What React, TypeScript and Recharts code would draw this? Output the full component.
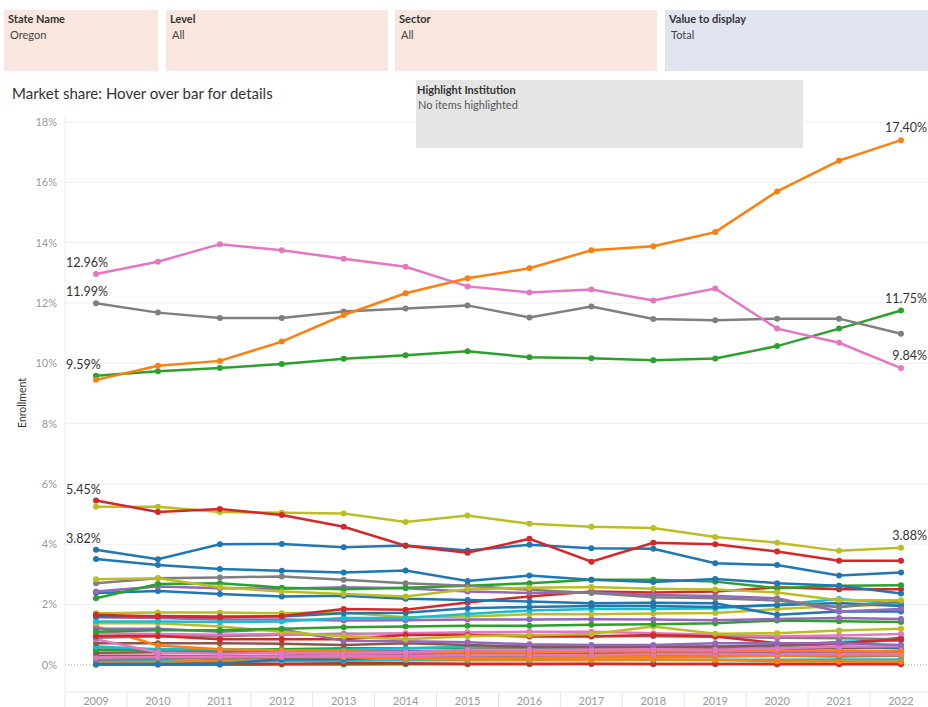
import { LineChart, Line, XAxis, YAxis, ReferenceLine } from "recharts"

const years = ["2009", "2010", "2011", "2012", "2013", "2014", "2015", "2016", "2017", "2018", "2019", "2020", "2021", "2022"]
const yTicks = [0, 2, 4, 6, 8, 10, 12, 14, 16, 18]

// market share (%) per institution
const orangeLeader = [9.45, 9.92, 10.08, 10.72, 11.6, 12.32, 12.82, 13.15, 13.75, 13.88, 14.35, 15.7, 16.72, 17.4]
const pinkLeader = [12.96, 13.37, 13.95, 13.75, 13.47, 13.2, 12.55, 12.35, 12.45, 12.08, 12.48, 11.15, 10.68, 9.84]
const grayLeader = [11.99, 11.68, 11.5, 11.5, 11.72, 11.82, 11.92, 11.52, 11.88, 11.47, 11.43, 11.48, 11.48, 10.98]
const greenLeader = [9.59, 9.74, 9.84, 9.98, 10.15, 10.27, 10.4, 10.2, 10.17, 10.1, 10.16, 10.57, 11.15, 11.75]
const redMid = [5.45, 5.07, 5.17, 4.97, 4.58, 3.95, 3.72, 4.18, 3.42, 4.05, 4.0, 3.76, 3.45, 3.45]
const oliveMid = [5.24, 5.24, 5.07, 5.04, 5.02, 4.74, 4.95, 4.68, 4.58, 4.54, 4.24, 4.05, 3.78, 3.88]
const blueMid = [3.82, 3.5, 4.0, 4.01, 3.9, 3.96, 3.79, 3.98, 3.87, 3.85, 3.37, 3.31, 2.96, 3.06]
const blueMid2 = [3.51, 3.31, 3.18, 3.12, 3.06, 3.13, 2.78, 2.96, 2.82, 2.75, 2.85, 2.71, 2.62, 2.37]
const olive2 = [2.84, 2.87, 2.57, 2.43, 2.35, 2.27, 2.51, 2.56, 2.58, 2.52, 2.5, 2.4, 2.14, 2.14]
const gray2 = [2.71, 2.87, 2.9, 2.93, 2.82, 2.71, 2.62, 2.49, 2.38, 2.24, 2.21, 2.13, 1.91, 2.1]
const green2 = [2.21, 2.68, 2.71, 2.56, 2.51, 2.56, 2.62, 2.71, 2.82, 2.82, 2.76, 2.54, 2.62, 2.64]
const purple1 = [2.43, 2.6, 2.54, 2.52, 2.57, 2.54, 2.43, 2.38, 2.4, 2.32, 2.28, 2.21, 1.77, 1.85]
const blue3 = [2.38, 2.45, 2.35, 2.27, 2.29, 2.19, 2.15, 2.1, 2.04, 2.06, 2.04, 1.66, 1.77, 1.77]
const red2 = [1.66, 1.6, 1.58, 1.62, 1.85, 1.83, 2.07, 2.27, 2.43, 2.4, 2.43, 2.57, 2.51, 2.51]
const blue4 = [1.6, 1.62, 1.6, 1.6, 1.71, 1.73, 1.88, 1.92, 1.95, 1.95, 1.92, 1.98, 2.05, 1.95]
const cyan1 = [1.44, 1.44, 1.42, 1.44, 1.55, 1.55, 1.69, 1.8, 1.85, 1.85, 1.88, 1.99, 2.18, 2.02]
const olive3 = [1.71, 1.74, 1.74, 1.71, 1.74, 1.58, 1.6, 1.68, 1.68, 1.7, 1.72, 1.85, 1.95, 2.0]
const purple3 = [1.58, 1.55, 1.5, 1.5, 1.47, 1.48, 1.5, 1.5, 1.51, 1.5, 1.48, 1.52, 1.55, 1.52]
const green3 = [1.1, 1.15, 1.15, 1.2, 1.25, 1.27, 1.3, 1.3, 1.33, 1.35, 1.38, 1.47, 1.45, 1.42]
const olive4 = [1.38, 1.38, 1.27, 1.1, 0.94, 0.85, 0.95, 0.98, 1.02, 1.27, 1.03, 1.05, 1.14, 1.2]
const purple2 = [1.2, 1.2, 1.1, 1.18, 0.8, 0.78, 0.75, 0.68, 0.66, 0.66, 0.72, 0.72, 0.72, 0.66]
const red3 = [0.96, 0.96, 0.85, 0.85, 0.85, 0.99, 0.99, 0.94, 0.94, 0.99, 0.94, 0.72, 0.72, 0.85]
const pink3 = [1.05, 1.02, 1.0, 1.02, 1.0, 1.05, 1.08, 1.1, 1.1, 1.05, 1.0, 0.95, 0.97, 1.02]
const gray4 = [0.9, 0.95, 0.95, 1.0, 1.03, 1.03, 1.0, 0.98, 0.96, 0.95, 0.93, 0.9, 0.88, 0.85]
const pink2 = [0.85, 0.41, 0.37, 0.39, 0.37, 0.41, 0.5, 0.5, 0.5, 0.52, 0.5, 0.55, 0.6, 0.62]
const orange2 = [1.27, 0.64, 0.52, 0.48, 0.45, 0.41, 0.41, 0.42, 0.44, 0.45, 0.45, 0.47, 0.48, 0.45]
const brown1 = [0.72, 0.72, 0.72, 0.7, 0.66, 0.72, 0.66, 0.6, 0.58, 0.58, 0.6, 0.65, 0.7, 0.9]
const cyan2 = [0.61, 0.52, 0.52, 0.48, 0.5, 0.55, 0.6, 0.64, 0.62, 0.6, 0.62, 0.64, 0.77, 0.8]
const green4 = [0.5, 0.52, 0.5, 0.52, 0.55, 0.55, 0.56, 0.55, 0.58, 0.6, 0.6, 0.62, 0.7, 0.85]
const purple4 = [0.5, 0.5, 0.48, 0.48, 0.46, 0.45, 0.45, 0.44, 0.45, 0.45, 0.44, 0.44, 0.45, 0.46]
const brown3 = [0.4, 0.42, 0.42, 0.45, 0.45, 0.45, 0.46, 0.48, 0.5, 0.5, 0.52, 0.55, 0.55, 0.6]
const pink4 = [0.25, 0.26, 0.27, 0.28, 0.3, 0.3, 0.32, 0.33, 0.33, 0.35, 0.35, 0.36, 0.38, 0.38]
const brown2 = [0.3, 0.3, 0.28, 0.3, 0.35, 0.36, 0.38, 0.38, 0.38, 0.4, 0.4, 0.38, 0.4, 0.42]
const orange4 = [0.28, 0.27, 0.26, 0.26, 0.25, 0.22, 0.22, 0.23, 0.24, 0.25, 0.27, 0.3, 0.32, 0.33]
const gray3 = [0.17, 0.2, 0.22, 0.25, 0.28, 0.3, 0.3, 0.3, 0.32, 0.3, 0.32, 0.3, 0.28, 0.3]
const blue5 = [0.03, 0.03, 0.03, 0.19, 0.19, 0.28, 0.28, 0.33, 0.33, 0.33, 0.33, 0.44, 0.61, 0.55]
const orange3 = [0.08, 0.08, 0.17, 0.2, 0.22, 0.2, 0.18, 0.18, 0.17, 0.18, 0.16, 0.12, 0.11, 0.1]
const cyan3 = [0.12, 0.12, 0.12, 0.13, 0.14, 0.15, 0.15, 0.15, 0.16, 0.16, 0.17, 0.17, 0.18, 0.18]
const red4 = [0.06, 0.05, 0.05, 0.04, 0.05, 0.05, 0.04, 0.04, 0.04, 0.03, 0.03, 0.02, 0.02, 0.02]
const green5 = [0.0, 0.0, 0.0, 0.01, 0.01, 0.02, 0.02, 0.02, 0.03, 0.03, 0.03, 0.04, 0.04, 0.05]

const C = {
  blue: "#1f77b4", orange: "#ff7f0e", green: "#2ca02c", red: "#d62728", purple: "#9467bd",
  brown: "#8c564b", pink: "#e377c2", gray: "#7f7f7f", olive: "#bcbd22", cyan: "#17becf",
}

// drawn bottom first, leaders last
const seriesList = [
  { key: "green5", values: green5, color: C.green },
  { key: "red4", values: red4, color: C.red },
  { key: "cyan3", values: cyan3, color: C.cyan },
  { key: "orange3", values: orange3, color: C.orange },
  { key: "blue5", values: blue5, color: C.blue },
  { key: "gray3", values: gray3, color: C.gray },
  { key: "orange4", values: orange4, color: C.orange },
  { key: "brown2", values: brown2, color: C.brown },
  { key: "pink4", values: pink4, color: C.pink },
  { key: "brown3", values: brown3, color: C.brown },
  { key: "purple4", values: purple4, color: C.purple },
  { key: "green4", values: green4, color: C.green },
  { key: "cyan2", values: cyan2, color: C.cyan },
  { key: "brown1", values: brown1, color: C.brown },
  { key: "orange2", values: orange2, color: C.orange },
  { key: "pink2", values: pink2, color: C.pink },
  { key: "gray4", values: gray4, color: C.gray },
  { key: "pink3", values: pink3, color: C.pink },
  { key: "red3", values: red3, color: C.red },
  { key: "purple2", values: purple2, color: C.purple },
  { key: "olive4", values: olive4, color: C.olive },
  { key: "green3", values: green3, color: C.green },
  { key: "purple3", values: purple3, color: C.purple },
  { key: "olive3", values: olive3, color: C.olive },
  { key: "cyan1", values: cyan1, color: C.cyan },
  { key: "blue4", values: blue4, color: C.blue },
  { key: "red2", values: red2, color: C.red },
  { key: "blue3", values: blue3, color: C.blue },
  { key: "purple1", values: purple1, color: C.purple },
  { key: "green2", values: green2, color: C.green },
  { key: "gray2", values: gray2, color: C.gray },
  { key: "olive2", values: olive2, color: C.olive },
  { key: "blueMid2", values: blueMid2, color: C.blue },
  { key: "blueMid", values: blueMid, color: C.blue, first: true },
  { key: "oliveMid", values: oliveMid, color: C.olive, last: true },
  { key: "redMid", values: redMid, color: C.red, first: true },
  { key: "greenLeader", values: greenLeader, color: C.green, first: true, last: true },
  { key: "grayLeader", values: grayLeader, color: C.gray, first: true },
  { key: "pinkLeader", values: pinkLeader, color: C.pink, first: true, last: true },
  { key: "orangeLeader", values: orangeLeader, color: C.orange, last: true },
]

const data = years.map((year, i) => {
  const row: Record<string, string | number> = { year }
  seriesList.forEach((s) => { row[s.key] = s.values[i] })
  return row
})

const FONT = "Lato, 'Noto Sans', sans-serif"
const fmt = (v: number) => `${v.toFixed(2)}%`

const makeDot = (s: any) => (props: any) => {
  const { cx, cy, index } = props
  const v = s.values[index]
  let label = null
  if (s.first && index === 0) {
    label = <text x={cx - 30} y={cy - 7} textAnchor="start" fontSize={12.5} fill="#333" fontFamily={FONT}>{fmt(v)}</text>
  } else if (s.last && index === years.length - 1) {
    // keep end labels inside the window
    label = <text x={cx + 26} y={cy - 8} textAnchor="end" fontSize={12.5} fill="#333" fontFamily={FONT}>{fmt(v)}</text>
  }
  return (
    <g key={`${s.key}-${index}`}>
      <circle cx={cx} cy={cy} r={3} fill={s.color} />
      {label}
    </g>
  )
}

const XTick = (props: any) => {
  const { x, y, payload } = props
  return (
    <g>
      <line x1={x - 31} x2={x - 31} y1={y - 5} y2={y + 12} stroke="#e6e6e6" />
      <text x={x} y={y} dy="0.71em" textAnchor="middle" fontSize={11} fill="#999" fontFamily={FONT}>{payload.value}</text>
    </g>
  )
}

const filters = [
  { title: "State Name", value: "Oregon", left: 4, width: 154, bg: "#f9e7df" },
  { title: "Level", value: "All", left: 166, width: 222, bg: "#f9e7df" },
  { title: "Sector", value: "All", left: 395, width: 262, bg: "#f9e7df" },
  { title: "Value to display", value: "Total", left: 665, width: 263, bg: "#e1e5f0" },
]

export default function App() {
  return (
    <div style={{ position: "absolute", left: 0, top: 0, width: 928, height: 707, overflow: "hidden", background: "#fff", fontFamily: FONT }}>
      {filters.map((f) => (
        <div key={f.title} style={{ position: "absolute", left: f.left, top: 10, width: f.width, height: 61, background: f.bg }}>
          <div style={{ position: "absolute", left: 4, top: 2, fontSize: 11, fontWeight: 700, color: "#333" }}>{f.title}</div>
          <div style={{ position: "absolute", left: 6, top: 18, fontSize: 11, color: "#444" }}>{f.value}</div>
        </div>
      ))}
      <div style={{ position: "absolute", left: 12, top: 84, fontSize: 15, color: "#333" }}>
        Market share: Hover over bar for details
      </div>
      <div style={{ position: "absolute", left: 22, top: 403, transform: "translate(-50%, -50%) rotate(-90deg)", fontSize: 10.5, color: "#333" }}>
        Enrollment
      </div>
      <div style={{ position: "absolute", left: 0, top: 0 }}>
        <LineChart width={932} height={707} data={data} margin={{ top: 116, right: 0, bottom: 0, left: 0 }}>
          {yTicks.filter((t) => t !== 0).map((t) => (
            <ReferenceLine key={t} y={t} stroke="#efefef" />
          ))}
          <ReferenceLine y={0} stroke="#aaa" strokeDasharray="1 2" />
          <XAxis
            dataKey="year"
            padding={{ left: 31, right: 31 }}
            height={15}
            tickLine={false}
            tickSize={3}
            tickMargin={2}
            axisLine={{ stroke: "#ececec" }}
            tick={<XTick />}
            interval={0}
          />
          <YAxis
            width={65}
            domain={[-0.9, 18.2]}
            ticks={yTicks}
            tickFormatter={(v) => `${v}%`}
            tickLine={false}
            axisLine={{ stroke: "#ececec" }}
            tick={{ fontSize: 11, fill: "#999", fontFamily: FONT }}
          />
          {seriesList.map((s) => (
            <Line
              key={s.key}
              dataKey={s.key}
              type="linear"
              stroke={s.color}
              strokeWidth={2.5}
              dot={makeDot(s)}
              activeDot={false}
              isAnimationActive={false}
            />
          ))}
        </LineChart>
      </div>
      <div style={{ position: "absolute", left: 416, top: 80, width: 387, height: 68, background: "#e5e5e5" }}>
        <div style={{ position: "absolute", left: 1, top: 3, fontSize: 11, fontWeight: 700, color: "#333" }}>Highlight Institution</div>
        <div style={{ position: "absolute", left: 2, top: 18, fontSize: 11, color: "#555" }}>No items highlighted</div>
      </div>
    </div>
  )
}
